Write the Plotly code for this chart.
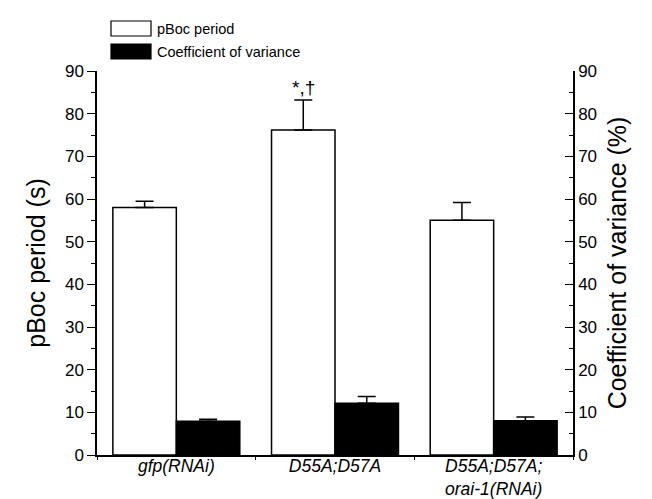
import plotly.graph_objects as go

categories = ["gfp(RNAi)", "D55A;D57A", "D55A;D57A;orai-1(RNAi)"]
category_labels = ["<i>gfp(RNAi)</i>", "<i>D55A;D57A</i>", "<i>D55A;D57A;</i><br><i>orai-1(RNAi)</i>"]
period_values = [58.0, 76.2, 55.0]
period_errors = [1.5, 7.0, 4.2]
cv_values = [7.9, 12.1, 8.0]
cv_errors = [0.5, 1.6, 0.9]
y_ticks = [0, 10, 20, 30, 40, 50, 60, 70, 80, 90]
legend_names = ["pBoc period", "Coefficient of variance"]
significance = "*,\u2020"

FONT = "Liberation Sans, Arial, Helvetica, sans-serif"

fig = go.Figure()
fig.add_trace(go.Bar(
    x=categories, y=period_values, name=legend_names[0],
    width=0.4, offset=-0.4,
    marker=dict(color="white", line=dict(color="black", width=1.5)),
    error_y=dict(type="data", array=period_errors, arrayminus=[0]*3, symmetric=False,
                 color="black", thickness=1.5, width=9),
    yaxis="y", showlegend=False,
))
fig.add_trace(go.Bar(
    x=categories, y=cv_values, name=legend_names[1],
    width=0.4, offset=0.0,
    marker=dict(color="black", line=dict(color="black", width=1.5)),
    error_y=dict(type="data", array=cv_errors, arrayminus=[0]*3, symmetric=False,
                 color="black", thickness=1.5, width=9),
    yaxis="y2", showlegend=False,
))

# significance marker above second group's white bar
fig.add_annotation(x=1, xshift=-32, y=period_values[1] + period_errors[1], yref="y",
                   text=significance, showarrow=False, yanchor="bottom", yshift=0,
                   font=dict(family=FONT, size=19, color="black"))

# custom legend
L = 89; W = 476; T = 63; H = 384
def px(x): return (x - L) / W
def py(y): return (T + H - y) / H
legend_rows = [(13, 28, "white"), (36, 51, "black")]
for (y0, y1, col), name in zip(legend_rows, legend_names):
    fig.add_shape(type="rect", xref="paper", yref="paper",
                  x0=px(103), x1=px(143), y0=py(y1), y1=py(y0),
                  line=dict(color="black", width=1.2), fillcolor=col)
    fig.add_annotation(xref="paper", yref="paper", x=px(147), y=py((y0 + y1) / 2),
                       text=name, showarrow=False, xanchor="left", yanchor="middle",
                       font=dict(family=FONT, size=14.5, color="black"))

axis_common = dict(range=[0, 90], tickvals=y_ticks, showgrid=False, zeroline=False,
                   showline=True, linecolor="black", linewidth=1.5, automargin=False,
                   tickfont=dict(family=FONT, size=17, color="black"),
                   tickcolor="black", tickwidth=1.2, ticklen=8)

fig.update_layout(
    width=652, height=499,
    margin=dict(l=89, r=87, t=63, b=52),
    plot_bgcolor="white", paper_bgcolor="white",
    barmode="overlay",
    font=dict(family=FONT, color="black"),
    xaxis=dict(type="category", categoryorder="array", categoryarray=categories,
               tickvals=categories, ticktext=category_labels, automargin=False,
               range=[-0.5, 2.5], showline=True, linecolor="black", linewidth=1.5,
               showgrid=False, zeroline=False, ticks="outside", tickson="boundaries",
               ticklen=3, tickcolor="black", tickwidth=1, ticklabelstandoff=-6,
               tickfont=dict(family=FONT, size=17.5, color="black")),
    yaxis=dict(**axis_common, ticks="outside",
               minor=dict(dtick=5, ticks="outside", ticklen=4, tickcolor="black", tickwidth=1),
               title=dict(text="pBoc period (s)", font=dict(family=FONT, size=25, color="black"),
                          standoff=12)),
    yaxis2=dict(**axis_common, overlaying="y", side="right", ticks="inside",
                minor=dict(dtick=5, ticks="inside", ticklen=4, tickcolor="black", tickwidth=1),
                title=dict(text="Coefficient of variance (%)",
                           font=dict(family=FONT, size=25, color="black"), standoff=12)),
)

fig.write_html("out.html")
